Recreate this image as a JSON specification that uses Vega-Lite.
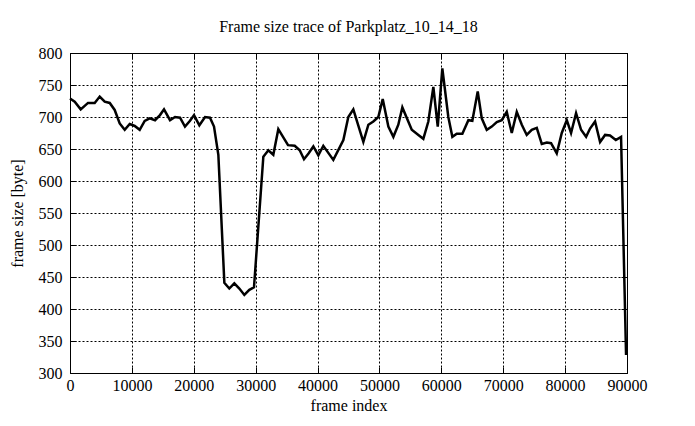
{
  "$schema": "https://vega.github.io/schema/vega-lite/v6.json",
  "width": 557,
  "height": 320,
  "autosize": {"type": "none"},
  "padding": {"left": 70, "top": 53, "right": 68, "bottom": 53},
  "background": "white",
  "title": {"text": "Frame size trace of Parkplatz_10_14_18", "font": "Liberation Serif", "fontSize": 16, "fontWeight": "normal", "color": "black", "anchor": "middle", "offset": 10},
  "config": {
    "view": {"stroke": "black", "strokeWidth": 1},
    "axis": {
      "labelFont": "Liberation Serif", "labelFontSize": 16, "labelColor": "black",
      "titleFont": "Liberation Serif", "titleFontSize": 16, "titleFontWeight": "normal", "titleColor": "black",
      "domain": false, "gridColor": "black", "gridDash": [2, 2], "gridOpacity": 1, "gridWidth": 1,
      "tickColor": "black", "tickSize": -6, "tickWidth": 1, "labelFlush": false, "labelOverlap": false
    }
  },
  "data": {"values": [
    {"frame": 0, "size": 729}, {"frame": 760, "size": 724}, {"frame": 1730, "size": 712}, {"frame": 2910, "size": 722},
    {"frame": 3990, "size": 722}, {"frame": 4800, "size": 732}, {"frame": 5610, "size": 724}, {"frame": 6420, "size": 722},
    {"frame": 7220, "size": 711}, {"frame": 8030, "size": 690}, {"frame": 8840, "size": 680}, {"frame": 9650, "size": 689},
    {"frame": 10460, "size": 686}, {"frame": 11260, "size": 680}, {"frame": 12070, "size": 694}, {"frame": 12880, "size": 698},
    {"frame": 13740, "size": 695}, {"frame": 14540, "size": 703}, {"frame": 15190, "size": 712}, {"frame": 16160, "size": 695},
    {"frame": 16970, "size": 700}, {"frame": 17780, "size": 699}, {"frame": 18580, "size": 685}, {"frame": 19390, "size": 694},
    {"frame": 20040, "size": 703}, {"frame": 20900, "size": 687}, {"frame": 21820, "size": 700}, {"frame": 22620, "size": 699},
    {"frame": 23270, "size": 685}, {"frame": 23970, "size": 641}, {"frame": 24940, "size": 441}, {"frame": 25740, "size": 432},
    {"frame": 26550, "size": 440}, {"frame": 27360, "size": 432}, {"frame": 28170, "size": 422}, {"frame": 28980, "size": 430},
    {"frame": 29730, "size": 434}, {"frame": 31240, "size": 638}, {"frame": 32050, "size": 648}, {"frame": 32850, "size": 641},
    {"frame": 33660, "size": 681}, {"frame": 34420, "size": 669}, {"frame": 35230, "size": 656}, {"frame": 36310, "size": 655},
    {"frame": 37120, "size": 648}, {"frame": 37810, "size": 634}, {"frame": 38540, "size": 643}, {"frame": 39320, "size": 654},
    {"frame": 40130, "size": 640}, {"frame": 40930, "size": 655}, {"frame": 42550, "size": 633}, {"frame": 44170, "size": 664},
    {"frame": 44970, "size": 700}, {"frame": 45780, "size": 712}, {"frame": 47400, "size": 661}, {"frame": 48210, "size": 688},
    {"frame": 49010, "size": 693}, {"frame": 49820, "size": 700}, {"frame": 50530, "size": 728}, {"frame": 51440, "size": 685},
    {"frame": 52250, "size": 669}, {"frame": 53050, "size": 688}, {"frame": 53700, "size": 715}, {"frame": 55220, "size": 680},
    {"frame": 56290, "size": 672}, {"frame": 57090, "size": 666}, {"frame": 57900, "size": 693}, {"frame": 58710, "size": 747},
    {"frame": 59420, "size": 685}, {"frame": 60160, "size": 776}, {"frame": 61130, "size": 700}, {"frame": 61780, "size": 669},
    {"frame": 62490, "size": 674}, {"frame": 63400, "size": 674}, {"frame": 64370, "size": 695}, {"frame": 65010, "size": 694},
    {"frame": 65880, "size": 740}, {"frame": 66530, "size": 698}, {"frame": 67340, "size": 680}, {"frame": 68150, "size": 685},
    {"frame": 68960, "size": 692}, {"frame": 69760, "size": 695}, {"frame": 70570, "size": 708}, {"frame": 71380, "size": 675},
    {"frame": 72190, "size": 708}, {"frame": 73000, "size": 688}, {"frame": 73800, "size": 672}, {"frame": 74610, "size": 680},
    {"frame": 75420, "size": 683}, {"frame": 76230, "size": 658}, {"frame": 77040, "size": 660}, {"frame": 77730, "size": 659},
    {"frame": 78650, "size": 643}, {"frame": 79460, "size": 675}, {"frame": 80270, "size": 695}, {"frame": 80960, "size": 675},
    {"frame": 81770, "size": 706}, {"frame": 82580, "size": 680}, {"frame": 83390, "size": 669}, {"frame": 84030, "size": 682},
    {"frame": 84840, "size": 693}, {"frame": 85650, "size": 661}, {"frame": 86460, "size": 672}, {"frame": 87260, "size": 671},
    {"frame": 88190, "size": 664}, {"frame": 89040, "size": 669}, {"frame": 89850, "size": 328}
  ]},
  "layer": [
    {
      "mark": {"type": "line", "color": "black", "strokeWidth": 2.5},
      "encoding": {
        "x": {"field": "frame", "type": "quantitative", "scale": {"domain": [0, 90000], "nice": false},
          "axis": {"title": "frame index", "values": [0, 10000, 20000, 30000, 40000, 50000, 60000, 70000, 80000, 90000], "format": "d", "grid": true, "labelPadding": 10, "titlePadding": 4}},
        "y": {"field": "size", "type": "quantitative", "scale": {"domain": [300, 800], "nice": false, "zero": false},
          "axis": {"title": "frame size [byte]", "values": [300, 350, 400, 450, 500, 550, 600, 650, 700, 750, 800], "format": "d", "grid": true, "labelPadding": 14, "titlePadding": 13}}
      }
    },
    {
      "mark": {"type": "point", "opacity": 0},
      "encoding": {
        "x": {"field": "frame", "type": "quantitative", "axis": {"orient": "top", "values": [0, 10000, 20000, 30000, 40000, 50000, 60000, 70000, 80000, 90000], "labels": false, "grid": false, "title": null}},
        "y": {"field": "size", "type": "quantitative", "axis": {"orient": "right", "values": [300, 350, 400, 450, 500, 550, 600, 650, 700, 750, 800], "labels": false, "grid": false, "title": null}}
      }
    }
  ],
  "resolve": {"axis": {"x": "independent", "y": "independent"}}
}
